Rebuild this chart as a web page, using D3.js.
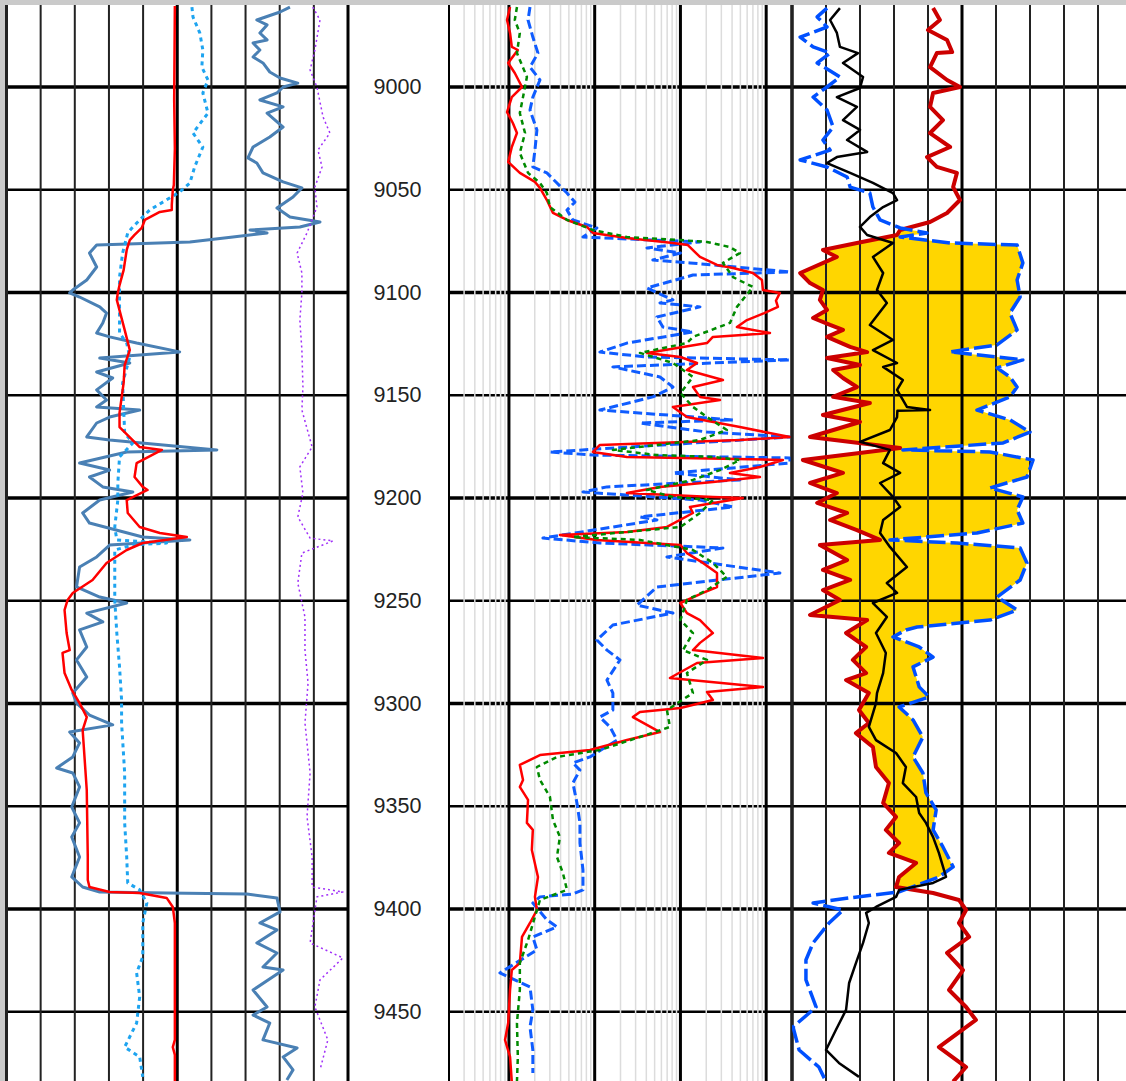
<!DOCTYPE html>
<meta charset="utf-8">
<style>
  body { margin: 0; background: #fff; }
  svg { display: block; }
</style>
<body>
<script src="https://d3js.org/d3.v7.min.js"></script>
<script>
    // depth labels between track 1 and track 2
    var depthTicks = [9000, 9050, 9100, 9150, 9200, 9250, 9300, 9350, 9400, 9450];

    // ---- track 1 (linear 0-100) : [depth, value]
    var sp = [[8960.6,49.3],[9006.3,49.1],[9030,49.3],[9047.7,49],[9050.1,48.7],[9057.4,48.4],[9059.9,48.4],[9060.8,44.9],[9064.7,40.5],[9068.6,39.6],[9072,37.5],[9074.5,36.1],[9079.3,35.2],[9089.1,34.3],[9096.4,33.1],[9100.2,32.6],[9103.6,32.3],[9118.2,34.6],[9128,36.1],[9135.3,34.6],[9144,34.3],[9158.6,33.1],[9165.5,33.1],[9175.2,39],[9176.6,45.5],[9183,38.1],[9189.8,37.5],[9194.6,39.9],[9196.1,41.3],[9201,35.2],[9207.3,35.5],[9214.1,39],[9217,44.9],[9219,52.8],[9221.9,39.9],[9225.3,35.2],[9231.6,29.3],[9239.9,25.2],[9246.2,19.4],[9249.6,17.9],[9254.5,17],[9265.7,17.6],[9274,18.5],[9275.4,16.4],[9285.2,17],[9293.4,19.1],[9299.8,21.4],[9306.6,23.5],[9312.9,22.3],[9342.1,23.5],[9374.7,23.8],[9385.9,23.8],[9389.3,24.3],[9391.7,30.2],[9392.2,39],[9394.6,46.9],[9399,48.7],[9406.8,49.3],[9463.7,49.3],[9467.2,48.7],[9471,49.3],[9484,49.3]];

    var gr = [[8961.1,83],[8963.5,80.1],[8967.4,73.3],[8969.8,76.3],[8973.7,74.2],[8977.1,76.3],[8978.6,72.2],[8982,74.2],[8985.4,72.2],[8988.3,75.1],[8992.7,77.1],[8995.6,80.1],[8998.1,85.3],[9000,81],[9002.9,79.2],[9006.3,74.2],[9009.7,81],[9012.7,76.3],[9019.5,81],[9024.3,77.1],[9029.2,72.2],[9034.5,70.7],[9037,73.3],[9041.8,75.1],[9046.2,81],[9049.1,86.5],[9053.5,83.9],[9058.9,79.2],[9063.3,83],[9065.7,91.8],[9068.1,85.9],[9069.6,71.3],[9071,76.3],[9073,66.3],[9075.4,53.7],[9076.9,26.4],[9080.8,24.3],[9087.6,26.4],[9093.9,23.5],[9098.8,19.4],[9100.2,18.5],[9102.2,21.4],[9107,27.3],[9110,29.3],[9114.8,28.2],[9119.7,26.4],[9121.6,30.2],[9124.6,38.1],[9128.9,50.7],[9131.9,27.3],[9134.3,36.1],[9138.7,26.4],[9141.6,31.1],[9147.4,26.4],[9152.3,29.3],[9155.7,26.4],[9157.2,39],[9160.6,30.2],[9163.5,26.4],[9170.3,23.5],[9171.8,30.2],[9176.6,61.6],[9177.6,35.2],[9183,21.4],[9186.4,30.2],[9189.8,24.3],[9194.6,28.2],[9197.1,37],[9201,27.3],[9207.3,22.3],[9212.2,24.3],[9219,39.9],[9220.4,53.7],[9222.9,30.2],[9228.7,26.4],[9233.6,21.4],[9243.3,20.5],[9248.2,27.3],[9251.1,35.2],[9256,23.5],[9260.3,28.2],[9264.2,21.4],[9272.5,23.5],[9278.8,20.5],[9287.1,23.5],[9294.9,19.4],[9299.8,20.5],[9305.6,24.3],[9310.4,31.1],[9313.9,18.5],[9319.2,21.4],[9326,19.4],[9331.4,14.7],[9333.8,19.4],[9340.6,21.4],[9350.4,19.1],[9358.1,21.4],[9365,19.1],[9374.7,21.4],[9384.4,19.1],[9389.3,22.3],[9391.7,27.3],[9392.2,46.9],[9392.7,70.4],[9394.6,79.2],[9401.4,80.1],[9406.8,74.2],[9410.2,79.2],[9416.5,73.3],[9421.4,79.2],[9428.2,75.1],[9429.7,81],[9439.4,72.2],[9447.7,76.3],[9451.6,72.2],[9455.5,77.1],[9463.7,75.1],[9467.6,85.1],[9472,81],[9478.3,83.9],[9483.2,82.1]];

    var cali = [[8961.1,54.3],[8965.9,54.6],[8973.7,56.6],[8982,57.5],[8990.3,57.2],[8996.6,59],[9002.9,57.5],[9012.7,59],[9022.4,54.6],[9029.2,57.5],[9038.9,55.1],[9046.7,53.7],[9051.1,50.7],[9059.9,41.9],[9068.1,37],[9071,35.5],[9080.8,34],[9092.5,33.1],[9103.6,33.1],[9119.7,33.1],[9124.6,35.2],[9131.4,36.1],[9144,34],[9168.4,34.6],[9173.2,37],[9180,33.1],[9192.7,32.6],[9201,32.6],[9214.1,31.7],[9220.4,32.3],[9221.9,46.9],[9222.9,37],[9225.3,31.7],[9249.6,31.7],[9265.7,32.3],[9282.2,33.1],[9298.3,33.7],[9309.5,33.7],[9333.8,34.6],[9358.1,34.6],[9374.7,35.2],[9387.3,35.5],[9390.7,39],[9397.1,41.1],[9406.8,39.9],[9423.3,39.9],[9431.1,38.1],[9442.8,39],[9455.5,38.1],[9467.2,34.6],[9472,39],[9481.7,39.9]];

    var tens = [[8961.1,89.7],[8967.4,91.8],[8982,90.3],[8991.7,88.9],[9000,90.9],[9014.6,92.7],[9022.4,94.7],[9030.7,91.2],[9038.9,92.4],[9048.7,90.3],[9058.4,90.9],[9071,88],[9080.8,85.1],[9090.5,86.5],[9100.2,86.5],[9113.4,85.9],[9128,86.5],[9146,86.8],[9157.2,86.5],[9175.2,89.5],[9184.9,85.9],[9197.6,86.8],[9209.2,85.3],[9219.5,88.9],[9220.9,95.6],[9226.8,86.5],[9241.4,85.3],[9257.9,87.4],[9274,87.4],[9290,88.3],[9309.5,87.4],[9333.8,88.9],[9355.2,88],[9374.7,89.5],[9389.3,89.5],[9391.7,98.5],[9394.1,90.9],[9416.5,88.9],[9423.8,98.5],[9434.5,91.8],[9447.7,90.3],[9463.7,94.1],[9478.3,91.8]];

    // ---- track 2 (log 0.2-2000 ohm.m) : [depth, value]
    var ild = [[8961.1,1.03],[8967.4,0.95],[8973.7,1.03],[8980.5,1.08],[8982,1.27],[8988.3,0.98],[8993.2,1.17],[9000,1.42],[9004.9,1.08],[9012.2,0.95],[9017.5,1.11],[9022.4,1.24],[9029.2,1.08],[9036.5,0.98],[9041.8,1.34],[9046.2,2.01],[9049.1,2.3],[9055,2.77],[9061.3,3.26],[9064.7,4.75],[9068.1,8.12],[9071,9.54],[9073.5,23.8],[9075.9,81.8],[9076.9,122],[9082.7,169],[9086.6,267],[9088.1,410],[9090.5,700],[9093.9,892],[9098.8,916],[9100.2,1445],[9104,1300],[9107,1370],[9110,950],[9113.4,597],[9116.8,456],[9119.7,1106],[9121.6,239],[9124.6,204],[9129.4,40.7],[9131.4,100],[9134.3,156],[9137.7,119],[9142.6,313],[9146,140],[9150.8,169],[9152.3,289],[9155.7,81.8],[9160.6,119],[9165.5,494],[9170.3,1891],[9171.8,494],[9174.2,11.5],[9177.6,9.54],[9180,23.8],[9181.5,1567],[9184.9,846],[9187.8,378],[9189.8,846],[9192.2,239],[9194.6,57.7],[9197.6,23.8],[9199.5,239],[9200,535],[9204.4,129],[9207.3,140],[9214.1,69.6],[9216.5,23.8],[9218,3.93],[9220.4,10.6],[9222.9,100],[9226.8,119],[9231.6,183],[9236.5,267],[9243.3,267],[9246.2,183],[9251.1,100],[9256,119],[9259.4,169],[9265.7,239],[9270.5,169],[9274,140],[9277.9,916],[9280.3,156],[9287.6,75.4],[9292,916],[9294.4,204],[9298.3,239],[9302.2,100],[9304.1,33.7],[9306.6,27.9],[9313.9,57.7],[9317.8,23.8],[9322.6,8.81],[9325.1,2.3],[9329.9,1.34],[9337.2,1.46],[9340.6,1.34],[9346.9,1.67],[9358.1,1.62],[9361.5,1.9],[9371.3,1.85],[9384.4,2.18],[9394.1,2.01],[9400.5,2.12],[9406.8,1.76],[9413.6,1.42],[9426.3,1.34],[9429.7,1.08],[9439.4,1.03],[9455.5,0.98],[9463.7,0.9],[9472,1.03],[9484,1.08]];

    var ilm = [[8961.1,1.24],[8967.4,1.17],[8973.7,1.34],[8983.5,1.24],[8995.1,1.62],[9004.9,1.46],[9012.7,1.34],[9022.4,1.54],[9032.1,1.34],[9041.8,1.67],[9046.7,2.3],[9051.6,2.77],[9058.4,3.01],[9064.7,4.75],[9069.6,9.54],[9073,23.8],[9074.5,100],[9075.4,204],[9077.9,378],[9080.8,494],[9085.6,313],[9092.5,410],[9097.3,700],[9107,456],[9114.8,378],[9121.6,140],[9124.6,119],[9129.4,33.7],[9134.3,81.8],[9141.1,140],[9148.9,100],[9155.7,140],[9160.6,204],[9166.9,348],[9171.8,169],[9176.6,16.3],[9179.1,53.2],[9180,239],[9181.5,494],[9186.4,289],[9191.2,140],[9196.1,40.7],[9199.5,81.8],[9201,239],[9207.3,169],[9214.1,100],[9219,5.57],[9220.4,33.7],[9225.3,140],[9231.6,239],[9238.4,348],[9244.8,204],[9249.6,119],[9259.4,100],[9265.7,140],[9274,107],[9278.8,204],[9285.2,119],[9294.9,140],[9296.8,119],[9303.2,69.6],[9311.4,75.4],[9316.3,33.7],[9322.6,11.5],[9326,3.63],[9330.9,2.12],[9337.2,2.3],[9345.5,3.01],[9356.7,3.26],[9364.9,3.93],[9374.7,3.63],[9382.5,4.26],[9390.7,4.75],[9395.6,2.3],[9400.5,2.12],[9415.1,1.67],[9426.3,1.34],[9439.4,1.34],[9455.5,1.24],[9472,1.27],[9484,1.24]];

    var sfl = [[8961.1,1.76],[8967.4,1.67],[8975.7,1.9],[8983.5,2.18],[8990.3,1.76],[8996.6,2.3],[9004.9,1.9],[9011.2,1.76],[9020.9,2.12],[9030.7,2.01],[9038.9,1.9],[9041.8,2.77],[9046.7,3.63],[9051.6,4.75],[9056,5.88],[9059.9,4.75],[9064.7,5.57],[9068.6,10.6],[9073,7.3],[9074.5,47.7],[9075.4,169],[9078.3,40.7],[9080.8,100],[9084.2,47.7],[9085.6,129],[9090,1891],[9091.5,140],[9097.8,40.7],[9103.6,81.8],[9105.1,57.7],[9107,169],[9111.9,53.2],[9116.8,62.5],[9119.2,140],[9124.6,23.8],[9129,11.5],[9131.4,40.7],[9132.8,1891],[9136.2,16.3],[9141.1,57.7],[9146,81.8],[9150.8,47.7],[9157.2,11.5],[9162,410],[9163.5,33.7],[9167.9,204],[9170.3,1891],[9177.6,3.01],[9179.1,9.54],[9180.5,1891],[9183,1891],[9187.8,81.8],[9191.2,494],[9194.6,13.9],[9197.1,7.3],[9201,169],[9204.4,410],[9209.2,33.7],[9210.7,53.2],[9219.5,2.49],[9221.9,11.5],[9224.3,313],[9228.7,69.6],[9236.5,1445],[9243.3,53.2],[9252.1,31.1],[9256,81.8],[9261.8,16.3],[9269.1,10.6],[9274,13.9],[9278.8,19.7],[9288.6,13.9],[9294.9,16.3],[9303.2,16.3],[9306.6,11.5],[9311.4,15.1],[9317.8,18.2],[9326,8.81],[9328.9,5.57],[9332.4,6.73],[9338.7,5.57],[9348.4,6.21],[9358.1,6.73],[9367.9,6.73],[9381,7.3],[9390.7,7.3],[9392.7,5.57],[9394.1,2.3],[9397.1,1.9],[9405.3,2.77],[9408.7,3.63],[9413.6,1.9],[9419.9,2.12],[9431.1,0.785],[9437.9,1.76],[9449.1,1.9],[9457.4,1.76],[9468.6,1.9],[9479.8,1.9]];

    // ---- track 3 (linear 0-100) : [depth, value]
    var dphi = [[8961.6,41.5],[8967.4,43.5],[8972.3,40],[8977.1,45.6],[8983,47.1],[8983.5,42.6],[8990.3,40.6],[8996.6,45.6],[9000,49.4],[9002.9,41.5],[9009.7,40.6],[9016.1,44.4],[9022.4,40.6],[9029.2,46.5],[9034.1,39.7],[9038.9,42.6],[9041.8,48.5],[9048.7,47.4],[9055,49.4],[9061.3,45.6],[9065.7,40.6],[9069.6,31.8],[9072,30.9],[9075.9,19.1],[9079.3,9.1],[9082.7,13.2],[9090.5,2.4],[9095.4,5.3],[9098.8,9.1],[9103.6,8.2],[9108.5,10.3],[9112.4,6.2],[9115.8,11.2],[9118.2,15],[9121.6,10.3],[9126.5,17.1],[9129,22.1],[9131.9,10.3],[9135.3,20],[9137.7,12.1],[9141.6,15],[9146,19.1],[9150.8,12.1],[9153.8,22.9],[9159.6,9.1],[9163,20],[9170.3,5.3],[9175.7,31.8],[9181.5,3.2],[9187.8,15],[9192.7,5.3],[9197.6,13.2],[9202.4,7.4],[9207.3,16.2],[9210.7,11.2],[9215.6,19.1],[9220.4,25.9],[9222.9,8.2],[9230.2,16.2],[9235,9.1],[9239.9,17.1],[9244.8,9.1],[9249.6,14.1],[9256.9,5.3],[9259.4,22.1],[9265.7,15.9],[9272.5,21.8],[9278.8,17.9],[9285.2,21.8],[9288.6,15.9],[9294.9,22.6],[9303.2,19.7],[9309.5,22.6],[9314.4,18.8],[9321.2,23.8],[9330.9,24.7],[9338.7,28.5],[9348.4,26.8],[9355.2,30.6],[9361.5,27.6],[9367.9,31.5],[9372.7,28.5],[9377.6,36.5],[9384.4,31.5],[9389.3,30.6],[9392.2,41.5],[9395.6,49.1],[9400.5,51.2],[9406.8,49.1],[9413.6,52.1],[9421.4,45.6],[9429.7,50.3],[9439.4,46.2],[9447.7,51.2],[9454,54.1],[9467.2,43.2],[9476.9,51.2],[9484,47.4]];

    var nphi = [[8961.6,10.3],[8965.9,7.4],[8970.8,10.3],[8975.7,2.4],[8980.5,6.2],[8983.5,11.2],[8988.3,7.4],[8995.1,14.1],[9000,10.3],[9004.9,6.2],[9011.2,10.3],[9019.5,12.1],[9025.8,9.1],[9030.7,11.2],[9035.5,2.4],[9038.9,10.3],[9043.8,16.2],[9048.7,17.1],[9051.6,22.9],[9058.4,23.8],[9064.7,25.9],[9068.6,31.8],[9071,39.7],[9073,31.8],[9075.9,46.5],[9076.9,66.2],[9085.6,67.9],[9093.9,66.2],[9102.2,67.1],[9110,64.1],[9118.2,66.2],[9125.5,60.3],[9128.9,46.5],[9131.4,60.3],[9132.8,67.9],[9136.7,60.3],[9141.1,64.1],[9146,66.2],[9150.8,64.1],[9157.2,54.4],[9162,64.1],[9167.9,70],[9173.2,62.1],[9175.7,40.6],[9176.6,32.6],[9177.6,58.2],[9181.5,70.9],[9189.8,69.1],[9195.1,58.2],[9199.5,67.9],[9205.8,66.2],[9212.2,67.9],[9217,54.4],[9220.4,28.8],[9221.9,48.5],[9224.3,67.1],[9231.6,69.1],[9239.9,67.1],[9248.2,60.3],[9254.5,66.2],[9259.4,58.2],[9262.8,36.8],[9264.2,33.5],[9267.6,29.7],[9272.5,37.4],[9277.4,41.5],[9282.2,35.6],[9291.9,37.4],[9296.8,40.3],[9301.7,31.5],[9308,35.6],[9316.3,38.5],[9326,35.6],[9333.8,38.5],[9343.5,39.4],[9351.8,42.4],[9361.5,41.5],[9369.8,44.4],[9379.5,47.4],[9384.4,43.2],[9391.7,31.5],[9394.6,16.8],[9397.1,6.2],[9400.5,15],[9406.8,10.9],[9416.5,6.2],[9424.8,4.1],[9434.5,4.1],[9447.7,7.1],[9457.4,0.3],[9468.6,2.1],[9476.9,7.9],[9484,10]];

    var pe = [[8961.6,14.1],[8967.4,11.2],[8973.7,13.2],[8980.5,14.1],[8983.5,19.4],[8988.3,15],[8995.1,20.9],[9000.5,20],[9004.9,13.2],[9009.7,19.1],[9016.1,15],[9020.9,20],[9025.8,16.2],[9031.6,22.1],[9034.1,13.2],[9037,10.3],[9041.8,17.1],[9046.7,23.8],[9051.6,29.7],[9055,30.9],[9058.4,26.8],[9063.3,22.9],[9068.1,20],[9072,22.1],[9075.9,29.7],[9082.7,23.8],[9090.5,26.8],[9098.8,25],[9105.1,27.9],[9115.8,22.9],[9123.1,29.7],[9128,23.8],[9134.3,30.9],[9136.2,26.8],[9142.6,32.6],[9147.4,30.9],[9155.7,33.8],[9157.2,40.6],[9157.6,31],[9160.6,30.9],[9166.9,28.8],[9172.7,20],[9176.6,28.8],[9183,26.8],[9187.8,31.8],[9192.7,25.9],[9199.5,29.7],[9204.4,31.8],[9210.7,26.8],[9217,25.9],[9223.8,28.8],[9233.6,33.8],[9241.4,27.9],[9246.2,30.9],[9251.1,23.8],[9257.9,27.9],[9265.7,24.7],[9275.4,27.6],[9285.2,26.8],[9294.9,25],[9299.8,24.7],[9311.4,22.6],[9317.8,24.7],[9324.1,30.6],[9330.9,33.5],[9338.7,32.6],[9345.5,36.5],[9353.3,37.4],[9358.1,39.4],[9365,41.5],[9372.7,43.2],[9384.4,45.3],[9387.3,41.5],[9390.7,31.5],[9394.1,30.6],[9399,24.7],[9401.9,21.8],[9406.8,22.6],[9416.5,20.9],[9426.3,18.8],[9436,16.8],[9449.1,15.9],[9458.9,12.9],[9468.6,10],[9474.9,13.8],[9481.7,19.7]];

    // ---- layout
    var width = 1126, height = 1081;
    var plotTop = 5, plotBottom = height;

    var y = d3.scaleLinear().domain([9000, 9450]).range([87, 1011.75]);
    var x1 = d3.scaleLinear().domain([0, 100]).range([6.5, 348]);
    var x2 = d3.scaleLog().domain([0.2, 2000]).range([449, 792]);
    var x3 = d3.scaleLinear().domain([0, 100]).range([792, 1132]);

    var svg = d3.select("body").append("svg")
            .attr("width", width)
            .attr("height", height);

    svg.append("rect").attr("width", width).attr("height", height).attr("fill", "#fff");

    // clip paths, one per track
    var defs = svg.append("defs");
    [["c1", 6.5, 348], ["c2", 449, 792], ["c3", 792, 1132]].forEach(function(c) {
        defs.append("clipPath").attr("id", c[0])
            .append("rect")
            .attr("x", c[1]).attr("y", plotTop)
            .attr("width", c[2] - c[1]).attr("height", plotBottom - plotTop);
    });

    function hLines(g, xa, xb) {
        depthTicks.forEach(function(d) {
            g.append("line")
                .attr("x1", xa).attr("x2", xb)
                .attr("y1", y(d)).attr("y2", y(d))
                .attr("stroke", "#000")
                .attr("stroke-width", d % 100 === 0 ? 3.5 : 2.5);
        });
    }

    function linearGrid(g, x) {
        hLines(g, x(0), x(100));
        d3.range(0, 101, 10).forEach(function(v) {
            g.append("line")
                .attr("x1", x(v)).attr("x2", x(v))
                .attr("y1", plotTop).attr("y2", plotBottom)
                .attr("stroke", v === 50 || v === 100 ? "#000" : "#222")
                .attr("stroke-width", v === 50 || v === 100 || v === 0 ? 3 : 2);
        });
    }

    function line(x) {
        return d3.line()
            .x(function(p) { return x(p[1]); })
            .y(function(p) { return y(p[0]); });
    }

    function drawCurve(g, data, x, color, w, dash) {
        g.append("path")
            .datum(data)
            .attr("fill", "none")
            .attr("stroke", color)
            .attr("stroke-width", w)
            .attr("stroke-dasharray", dash || null)
            .attr("stroke-linejoin", "round")
            .attr("d", line(x));
    }

    // ---- track 1
    var t1 = svg.append("g");
    linearGrid(t1, x1);
    var c1 = t1.append("g").attr("clip-path", "url(#c1)");
    drawCurve(c1, gr, x1, "#4a80b4", 3);
    drawCurve(c1, cali, x1, "#1ea4f0", 3, "4,4");
    drawCurve(c1, sp, x1, "#ff0000", 2.5);
    drawCurve(c1, tens, x1, "#a030f8", 1.5, "2,3");

    // ---- depth labels
    svg.append("g").selectAll("text")
        .data(depthTicks)
        .enter().append("text")
        .attr("x", 397.5)
        .attr("y", function(d) { return y(d); })
        .attr("text-anchor", "middle")
        .attr("dominant-baseline", "central")
        .attr("font-family", "Liberation Sans, Arial, sans-serif")
        .attr("font-size", 21.5)
        .attr("fill", "#222")
        .text(function(d) { return d; });

    // ---- track 2 (log)
    var t2 = svg.append("g");
    hLines(t2, 449, 792);
    var minors = [];
    [0.1, 1, 10, 100].forEach(function(b) {
        for (var k = 2; k <= 9; k++) {
            var v = b * k;
            if (v > 0.2 && v < 2000) minors.push(v);
        }
    });
    t2.selectAll(".minor").data(minors).enter().append("line")
        .attr("x1", function(v) { return x2(v); })
        .attr("x2", function(v) { return x2(v); })
        .attr("y1", plotTop).attr("y2", plotBottom)
        .attr("stroke", "#dcdcdc").attr("stroke-width", 1.5);
    t2.selectAll(".major").data([0.2, 1, 10, 100, 1000, 2000]).enter().append("line")
        .attr("x1", function(v) { return x2(v); })
        .attr("x2", function(v) { return x2(v); })
        .attr("y1", plotTop).attr("y2", plotBottom)
        .attr("stroke", "#000")
        .attr("stroke-width", function(v) { return v === 0.2 ? 2 : 3; });
    var c2 = t2.append("g").attr("clip-path", "url(#c2)");
    drawCurve(c2, sfl, x2, "#0f5cff", 3, "9,4");
    drawCurve(c2, ild, x2, "#ff0000", 2.5);
    drawCurve(c2, ilm, x2, "#008a00", 2.5, "5,4");

    // ---- track 3, yellow crossover fill first so grid shows on top
    var t3 = svg.append("g");
    var bis = d3.bisector(function(p) { return p[0]; }).left;
    function valueAt(data, d) {
        var i = bis(data, d);
        if (i <= 0) return data[0][1];
        if (i >= data.length) return data[data.length - 1][1];
        var a = data[i - 1], b = data[i];
        return a[1] + (d - a[0]) / (b[0] - a[0]) * (b[1] - a[1]);
    }
    var fillDepths = d3.range(8960, 9484, 0.2);
    var c3 = t3.append("g").attr("clip-path", "url(#c3)");
    c3.append("path")
        .datum(fillDepths)
        .attr("fill", "#ffd600")
        .attr("d", d3.area()
            .y(function(d) { return y(d); })
            .x0(function(d) { return x3(valueAt(dphi, d)); })
            .x1(function(d) { return x3(Math.max(valueAt(dphi, d), valueAt(nphi, d))); }));
    linearGrid(t3, x3);
    var c3b = t3.append("g").attr("clip-path", "url(#c3)");
    drawCurve(c3b, dphi, x3, "#cc0000", 4);
    drawCurve(c3b, nphi, x3, "#0050ff", 3.5, "18,5");
    drawCurve(c3b, pe, x3, "#000", 2.5);

    // ---- grey frame on top and left
    svg.append("rect").attr("x", 0).attr("y", 0).attr("width", width).attr("height", 5).attr("fill", "#cacaca");
    svg.append("rect").attr("x", 0).attr("y", 0).attr("width", 5).attr("height", height).attr("fill", "#cacaca");
</script>
</body>
